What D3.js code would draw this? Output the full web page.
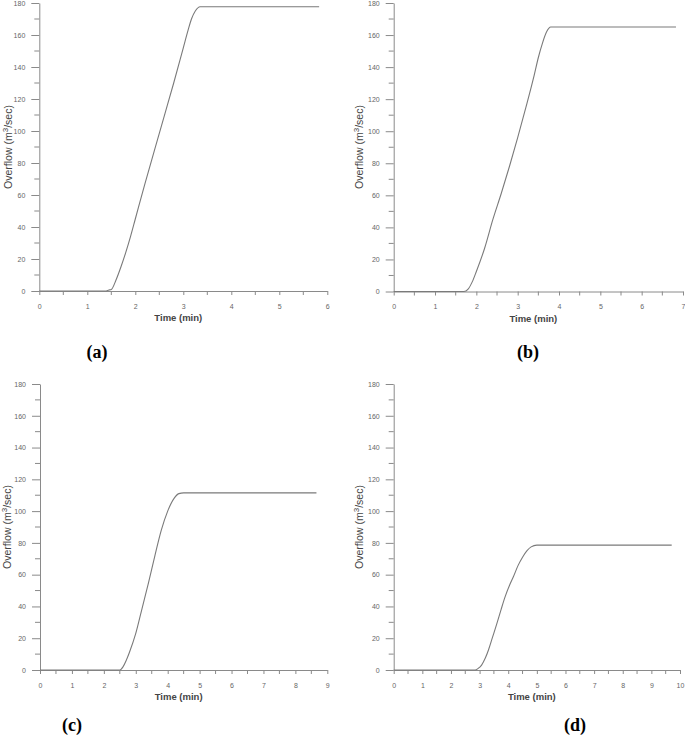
<!DOCTYPE html>
<html><head><meta charset="utf-8">
<script src="https://cdn.jsdelivr.net/npm/d3@7"></script>
<style>body{margin:0;background:#fff}svg{display:block}</style>
</head><body>
<svg id="c" width="685" height="742"></svg>
<script>
const panelLabels = ["(a)", "(b)", "(c)", "(d)"];
const xMaxes = [6, 7, 9, 10];
const yTicks = [0, 20, 40, 60, 80, 100, 120, 140, 160, 180];
// series: [time (min), overflow (m3/sec)]
const seriesA = [[0,0],[1.37,0],[1.45,0.6],[1.5,1],[1.6,7],[1.7,15],[1.8,24],[1.9,34],[2.0,45],[2.2,67],[2.4,88],[2.6,109],[2.8,130],[3.0,152],[3.1,163],[3.17,170],[3.25,175],[3.35,177.7],[5.83,177.7]];
const seriesB = [[0,0],[1.7,0],[1.8,1.5],[1.9,6],[2.0,12.5],[2.2,27],[2.4,45],[2.6,61],[2.8,78],[3.0,96],[3.2,115],[3.4,135],[3.5,146],[3.6,155],[3.7,162],[3.8,165],[6.83,165]];
const seriesC = [[0,0],[2.5,0],[2.6,2],[2.7,6],[2.8,11],[3.0,23],[3.2,39],[3.4,55],[3.6,72],[3.8,88],[4.0,100],[4.2,108],[4.35,111],[4.5,111.5],[8.66,111.5]];
const seriesD = [[0,0],[2.84,0],[2.95,1],[3.07,3.1],[3.2,7.5],[3.31,12.6],[3.45,20.5],[3.6,29],[3.75,38],[3.89,46],[4.05,53.5],[4.18,58.7],[4.35,66],[4.5,71],[4.65,75],[4.8,77.5],[5.0,78.6],[9.71,78.6]];
const allSeries = [seriesA, seriesB, seriesC, seriesD];

const frames = [
  {l:39.3, r:327.3, t:3, b:291, lab:[97,358], yl:[8,147]},
  {l:393.7, r:683, t:3, b:291.5, lab:[528,358], yl:[359,147]},
  {l:40, r:327.3, t:384, b:670, lab:[72,731], yl:[7,527]},
  {l:393.7, r:680, t:384, b:670, lab:[575,731], yl:[359,527]}
];

const svg = d3.select("#c");
const axisCol = "#8a8a8a", textCol = "#666";
const sans = "'Liberation Sans', Arial, sans-serif";

frames.forEach((f, i) => {
  const x = d3.scaleLinear().domain([0, xMaxes[i]]).range([f.l, f.r]);
  const y = d3.scaleLinear().domain([0, 180]).range([f.b, f.t]);
  const g = svg.append("g");

  const xMinor = d3.range(0.5, xMaxes[i], 1);
  const yMinor = d3.range(10, 180, 20);
  g.append("g").selectAll("line").data(xMinor).join("line")
    .attr("x1", d => x(d)).attr("x2", d => x(d)).attr("y1", f.b).attr("y2", f.b + 4)
    .attr("stroke", axisCol);
  g.append("g").selectAll("line").data(yMinor).join("line")
    .attr("y1", d => y(d)).attr("y2", d => y(d)).attr("x1", f.l).attr("x2", f.l - 5)
    .attr("stroke", axisCol);

  const xa = g.append("g").attr("transform", `translate(0,${f.b})`)
    .call(d3.axisBottom(x).tickValues(d3.range(0, xMaxes[i] + 1)).tickFormat(d3.format("d")).tickSizeInner(4).tickSizeOuter(0).tickPadding(9));
  const ya = g.append("g").attr("transform", `translate(${f.l},0)`)
    .call(d3.axisLeft(y).tickValues(yTicks).tickSizeInner(8).tickSizeOuter(0).tickPadding(6));
  [xa, ya].forEach(a => {
    a.attr("font-family", sans);
    a.select(".domain").attr("stroke", axisCol);
    a.selectAll(".tick line").attr("stroke", axisCol);
    a.selectAll("text").attr("fill", textCol).style("font-family", sans).style("font-size", "7px");
  });

  g.append("path").datum(allSeries[i])
    .attr("fill", "none").attr("stroke", "#7a7a7a").attr("stroke-width", 1.1)
    .attr("d", d3.line().x(d => x(d[0])).y(d => y(d[1])).curve(d3.curveMonotoneX));

  g.append("text").attr("x", (f.l + f.r) / 2 - 5).attr("y", f.b + 30)
    .attr("text-anchor", "middle").attr("fill", "#444")
    .style("font-family", sans).style("font-size", "9.5px").style("font-weight", "bold")
    .text("Time (min)");
  const yt = g.append("text").attr("transform", `translate(${f.yl[0] + 3.5},${f.yl[1]}) rotate(-90)`)
    .attr("text-anchor", "middle").attr("fill", "#444")
    .style("font-family", sans).style("font-size", "10.5px");
  yt.append("tspan").text("Overflow (m");
  yt.append("tspan").attr("dy", -3.5).style("font-size", "8px").text("3");
  yt.append("tspan").attr("dy", 3.5).text("/sec)");

  svg.append("text").attr("x", f.lab[0]).attr("y", f.lab[1])
    .attr("text-anchor", "middle").attr("fill", "#000")
    .style("font-family", "'Liberation Serif', 'Times New Roman', serif").style("font-size", "18px").style("font-weight", "bold")
    .text(panelLabels[i]);
});
</script>
</body></html>
